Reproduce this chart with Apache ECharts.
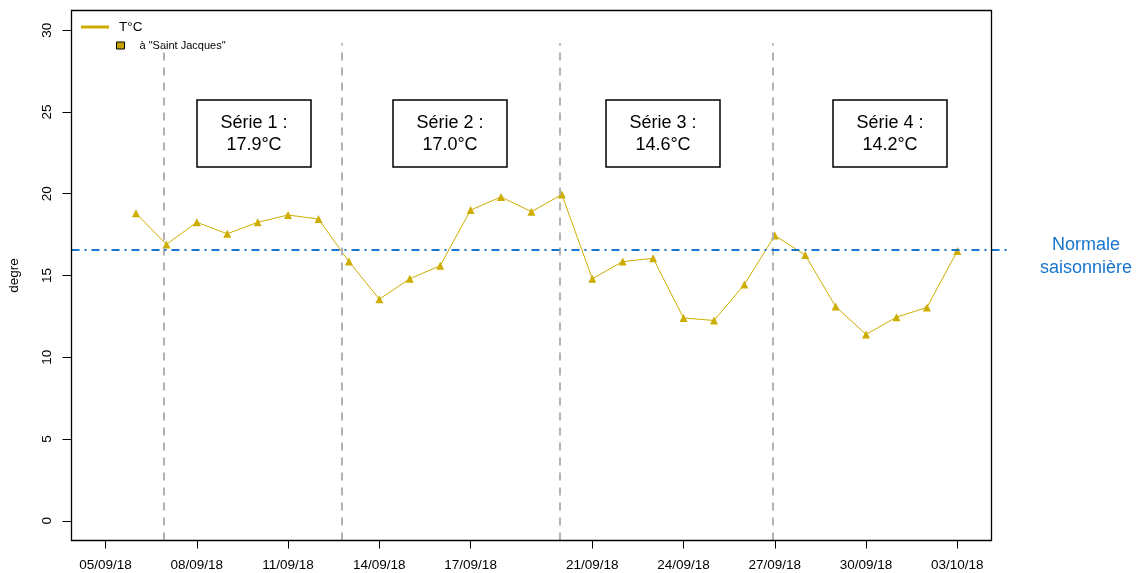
<!DOCTYPE html>
<html>
<head>
<meta charset="utf-8">
<title>T°C Saint Jacques</title>
<script src="https://cdn.jsdelivr.net/npm/echarts@6/dist/echarts.min.js"></script>
<style>
    html, body { margin: 0; padding: 0; background: #fff; }
    #main { width: 1147px; height: 573px; }
</style>
</head>
<body>
<div id="main"></div>
<script>
    // daily temperatures at "Saint Jacques"
    var days = ['2018-09-06', '2018-09-07', '2018-09-08', '2018-09-09', '2018-09-10', '2018-09-11', '2018-09-12',
                '2018-09-13', '2018-09-14', '2018-09-15', '2018-09-16', '2018-09-17', '2018-09-18', '2018-09-19',
                '2018-09-20', '2018-09-21', '2018-09-22', '2018-09-23', '2018-09-24', '2018-09-25', '2018-09-26',
                '2018-09-27', '2018-09-28', '2018-09-29', '2018-09-30', '2018-10-01', '2018-10-02', '2018-10-03'];
    var temps = [18.8, 16.9, 18.25, 17.55, 18.25, 18.7, 18.45,
                 15.85, 13.55, 14.8, 15.6, 19.0, 19.8, 18.9,
                 19.95, 14.8, 15.85, 16.05, 12.4, 12.25, 14.45,
                 17.45, 16.25, 13.1, 11.4, 12.45, 13.05, 16.5];

    var tickDays = ['2018-09-05', '2018-09-08', '2018-09-11', '2018-09-14', '2018-09-17',
                    '2018-09-21', '2018-09-24', '2018-09-27', '2018-09-30', '2018-10-03'];
    var yTicks = [0, 5, 10, 15, 20, 25, 30];

    // limites des series (lignes grises)
    var cuts = ['2018-09-06 21:45', '2018-09-12 18:10', '2018-09-19 22:20', '2018-09-26 22:05'];
    var serieNames = ['Série 1 :', 'Série 2 :', 'Série 3 :', 'Série 4 :'];
    var serieMeans = ['17.9°C', '17.0°C', '14.6°C', '14.2°C'];
    var normale = 16.6;

    var DAY = 86400000;
    var origin = Date.UTC(2018, 8, 5);
    // date -> nombre de jours depuis le 05/09/18
    function toDay(s) {
        var p = s.split(/[- :]/);
        return (Date.UTC(+p[0], p[1] - 1, +p[2], +(p[3] || 0), +(p[4] || 0)) - origin) / DAY;
    }
    function pad(n) { return n < 10 ? '0' + n : '' + n; }

    var xmin = -1.12;
    var xmax = xmin + 938.5 / 30.42;

    var data = [];
    for (var i = 0; i < days.length; i++) {
        data.push([toDay(days[i]), temps[i]]);
    }

    var lines = [];
    for (var i = 0; i < cuts.length; i++) {
        var t = toDay(cuts[i]);
        lines.push([
            { coord: [t, -1.2], lineStyle: { color: '#b3b3b3', width: 2, type: [8, 7] } },
            { coord: [t, 29.2] }
        ]);
    }
    lines.push({ yAxis: normale, lineStyle: { color: '#1874CD', width: 2, type: [8, 5, 2, 5] } });

    var graphics = [{
        type: 'rect', z: 100,
        shape: { x: 71.5, y: 10.5, width: 920, height: 530 },
        style: { fill: 'transparent', stroke: '#000', lineWidth: 1.3 }
    }, {
        type: 'text', x: 1086, y: 257,
        style: { text: 'Normale\nsaisonnière', font: '18px "Liberation Sans"', fill: '#1874CD',
                 align: 'center', verticalAlign: 'middle', lineHeight: 23 }
    }];
    var boxX = [254, 450, 663, 890];
    for (var i = 0; i < boxX.length; i++) {
        graphics.push({
            type: 'rect', z: 50,
            shape: { x: boxX[i] - 57, y: 100, width: 114, height: 67 },
            style: { fill: '#fff', stroke: '#000', lineWidth: 1.5 }
        });
        graphics.push({
            type: 'text', z: 51, x: boxX[i], y: 134,
            style: { text: serieNames[i] + '\n' + serieMeans[i], font: '18px "Liberation Sans"', fill: '#000',
                     align: 'center', verticalAlign: 'middle', lineHeight: 22 }
        });
    }

    var myChart = echarts.init(document.getElementById('main'));
    var option = {
        animation: false,
        textStyle: { fontFamily: 'Liberation Sans' },
        grid: { left: 71.5, top: 10.5, width: 938.5, height: 530, show: false, outerBoundsMode: 'none' },
        legend: [{
            data: [{ name: 'T°C', icon: 'rect' }],
            left: 81, top: 20, padding: 0,
            itemWidth: 28, itemHeight: 3,
            textStyle: { fontSize: 13.5, color: '#000', padding: [0, 0, 0, 5] }
        }, {
            data: [{ name: 'à "Saint Jacques"', icon: 'rect',
                     itemStyle: { color: '#c4a000', borderColor: '#000', borderWidth: 1 } }],
            left: 116, top: 40, padding: 0,
            itemWidth: 8, itemHeight: 7,
            textStyle: { fontSize: 11, color: '#000', padding: [0, 0, 0, 10] }
        }],
        xAxis: {
            type: 'value',
            min: xmin,
            max: xmax,
            axisLine: { show: false, onZero: false },
            splitLine: { show: false },
            axisTick: { show: true, length: 8, lineStyle: { color: '#000' }, customValues: tickDays.map(toDay) },
            axisLabel: {
                customValues: tickDays.map(toDay),
                fontSize: 13.5, color: '#000', margin: 18,
                formatter: function (v) {
                    var d = new Date(origin + Math.round(v) * DAY);
                    return pad(d.getUTCDate()) + '/' + pad(d.getUTCMonth() + 1) + '/' + String(d.getUTCFullYear()).slice(2);
                }
            }
        },
        yAxis: {
            type: 'value',
            min: -1.2,
            max: 31.2,
            name: 'degre',
            nameLocation: 'middle',
            nameGap: 50,
            nameTextStyle: { fontSize: 13.5, color: '#000' },
            axisLine: { show: false, onZero: false },
            splitLine: { show: false },
            axisTick: { show: true, length: 9, lineStyle: { color: '#000' }, customValues: yTicks },
            axisLabel: { customValues: yTicks, rotate: 90, fontSize: 13.5, color: '#000', margin: 17 }
        },
        series: [{
            name: 'T°C',
            type: 'line',
            data: data,
            symbol: 'triangle',
            symbolSize: 8,
            color: '#CDAD00',
            lineStyle: { width: 1, color: '#CDAD00' },
            itemStyle: { color: '#CDAD00' },
            markLine: {
                silent: true,
                symbol: ['none', 'none'],
                label: { show: false },
                data: lines
            }
        }, {
            name: 'à "Saint Jacques"',
            type: 'line',
            data: [],
            color: '#c4a000'
        }],
        graphic: graphics
    };
    myChart.setOption(option);
</script>
</body>
</html>
